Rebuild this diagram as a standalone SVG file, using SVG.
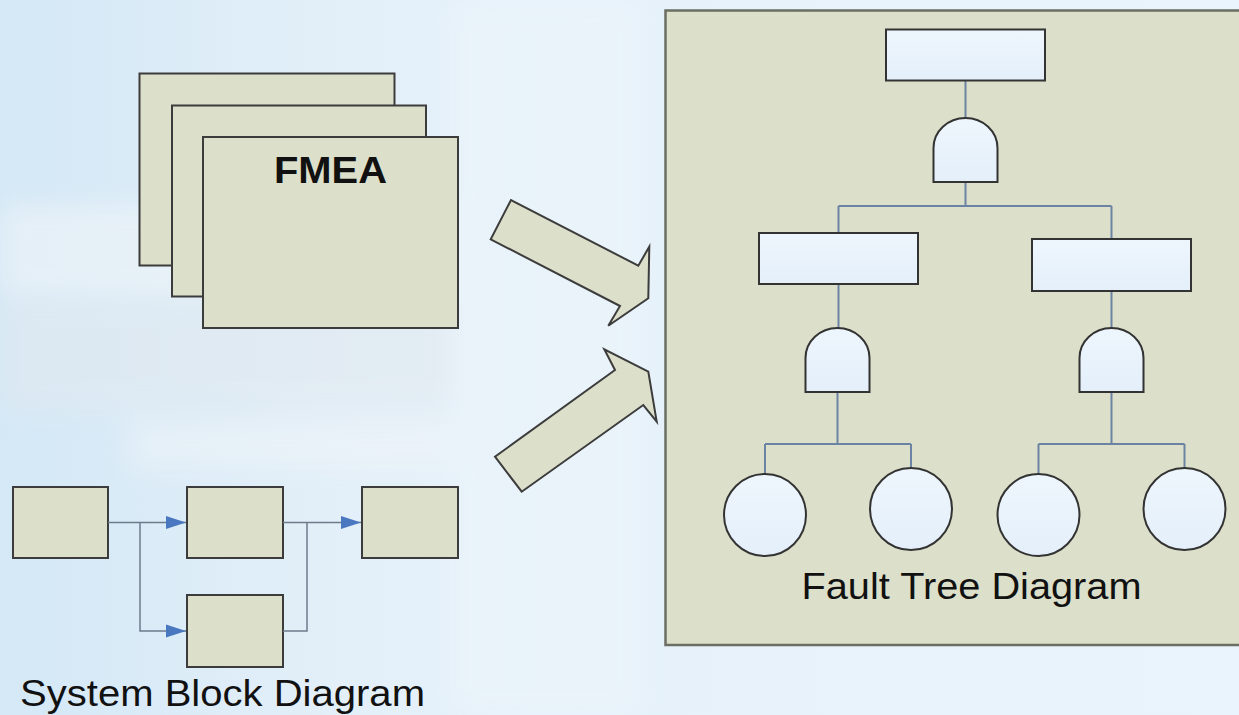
<svg xmlns="http://www.w3.org/2000/svg" width="1239" height="715" viewBox="0 0 1239 715">
  <defs>
    <linearGradient id="bg" x1="0" y1="0" x2="1" y2="0">
      <stop offset="0" stop-color="#d4e8f6"/>
      <stop offset="0.3" stop-color="#e4f0f9"/>
      <stop offset="1" stop-color="#eaf4fc"/>
    </linearGradient>
    <linearGradient id="nodefill" x1="0" y1="0" x2="0" y2="1">
      <stop offset="0" stop-color="#eef6fd"/>
      <stop offset="1" stop-color="#e4effa"/>
    </linearGradient>
    <filter id="blur" x="-20%" y="-20%" width="140%" height="140%">
      <feGaussianBlur stdDeviation="12"/>
    </filter>
    <marker id="arr" markerUnits="userSpaceOnUse" markerWidth="22" markerHeight="14" refX="20" refY="7" orient="auto">
      <path d="M0,0.5 L20,7 L0,13.5 Z" fill="#4a78c0"/>
    </marker>
    <style>
      .beige { fill: #dcdfc9; stroke: #3c3c3c; stroke-width: 2; }
      .ftnode { fill: url(#nodefill); stroke: #333; stroke-width: 2; }
      .ftline { fill: none; stroke: #6c84a3; stroke-width: 2; }
      .bdline { fill: none; stroke: #6e7b8c; stroke-width: 1.5; }
      .label { font-family: "Liberation Sans", Arial, sans-serif; fill: #111; }
    </style>
  </defs>

  <!-- background -->
  <rect x="0" y="0" width="1239" height="715" fill="url(#bg)"/>
  <g filter="url(#blur)" opacity="0.5">
    <rect x="0" y="205" width="470" height="90" fill="#f4f6f8"/>
    <rect x="0" y="300" width="520" height="110" fill="#e2e9ef"/>
    <rect x="130" y="420" width="400" height="50" fill="#f0f4f8"/>
    <rect x="450" y="0" width="190" height="715" fill="#eef5fb"/>
  </g>

  <!-- FMEA stack -->
  <g id="fmea">
    <rect class="beige" x="139.5" y="73.5" width="255" height="192"/>
    <rect class="beige" x="172" y="105.5" width="254" height="191"/>
    <rect class="beige" x="203" y="137" width="255" height="191"/>
    <text class="label" x="330.5" y="182.5" font-size="37" font-weight="bold" text-anchor="middle" textLength="113" lengthAdjust="spacingAndGlyphs">FMEA</text>
  </g>

  <!-- big arrows -->
  <g id="big-arrows">
    <polygon class="beige" stroke-width="1.5" points="511,200 490.7,239.3 620,306 608.3,325.7 648.3,298.3 649.3,246.7 638.3,265.7"/>
    <polygon class="beige" stroke-width="1.5" points="521.7,491.7 495,456.7 615,370 604.3,349.3 648.3,371.7 656.7,421.7 643.3,405"/>
  </g>

  <!-- System block diagram -->
  <g id="block-diagram">
    <rect id="b1" class="beige" x="13" y="487" width="95" height="71"/>
    <rect id="b2" class="beige" x="187" y="487" width="96" height="71"/>
    <rect id="b3" class="beige" x="362" y="487" width="96" height="71"/>
    <rect id="b4" class="beige" x="187" y="595" width="96" height="72"/>
    <g id="block-connectors">
      <path class="bdline" d="M108,522.5 H186" marker-end="url(#arr)"/>
      <path class="bdline" d="M140,522.5 V631 H186" marker-end="url(#arr)"/>
      <path class="bdline" d="M283,522.5 H361" marker-end="url(#arr)"/>
      <path class="bdline" d="M283,631 H307 V522.5"/>
    </g>
    <text class="label" x="20" y="706" font-size="37" textLength="405" lengthAdjust="spacingAndGlyphs">System Block Diagram</text>
  </g>

  <!-- Fault tree panel -->
  <g id="fault-tree">
    <rect x="665.5" y="10.5" width="600" height="634.5" fill="#dcdfc9" stroke="#6b6e62" stroke-width="2.5"/>
    <g id="ft-connectors">
      <path class="ftline" d="M965.5,80 V118"/>
      <path class="ftline" d="M965.5,182 V206 M838.5,206 H1111.5 M838.5,206 V233 M1111.5,206 V239"/>
      <path class="ftline" d="M838.5,284 V328 M1111.5,291 V328"/>
      <path class="ftline" d="M837.5,392 V444 M765,444 H911 M765,444 V474 M911,444 V468"/>
      <path class="ftline" d="M1111.5,392 V444 M1038.5,444 H1184.5 M1038.5,444 V474 M1184.5,444 V468"/>
    </g>
    <rect id="top-event" class="ftnode" x="886" y="29.5" width="159" height="51"/>
    <path id="gate-top" class="ftnode" d="M933.5,182 V148 A32,30 0 0 1 997.5,148 V182 Z"/>
    <rect id="mid-left" class="ftnode" x="759" y="233" width="159" height="51"/>
    <rect id="mid-right" class="ftnode" x="1032" y="239" width="159" height="52"/>
    <path id="gate-left" class="ftnode" d="M805.5,392 V358 A32,30 0 0 1 869.5,358 V392 Z"/>
    <path id="gate-right" class="ftnode" d="M1079.5,392 V358 A32,30 0 0 1 1143.5,358 V392 Z"/>
    <circle id="c1" class="ftnode" cx="765" cy="515" r="41"/>
    <circle id="c2" class="ftnode" cx="911" cy="509" r="41"/>
    <circle id="c3" class="ftnode" cx="1038.5" cy="515" r="41"/>
    <circle id="c4" class="ftnode" cx="1184.5" cy="509" r="41"/>
    <text class="label" x="801.5" y="598.5" font-size="37" textLength="340" lengthAdjust="spacingAndGlyphs">Fault Tree Diagram</text>
  </g>
</svg>
